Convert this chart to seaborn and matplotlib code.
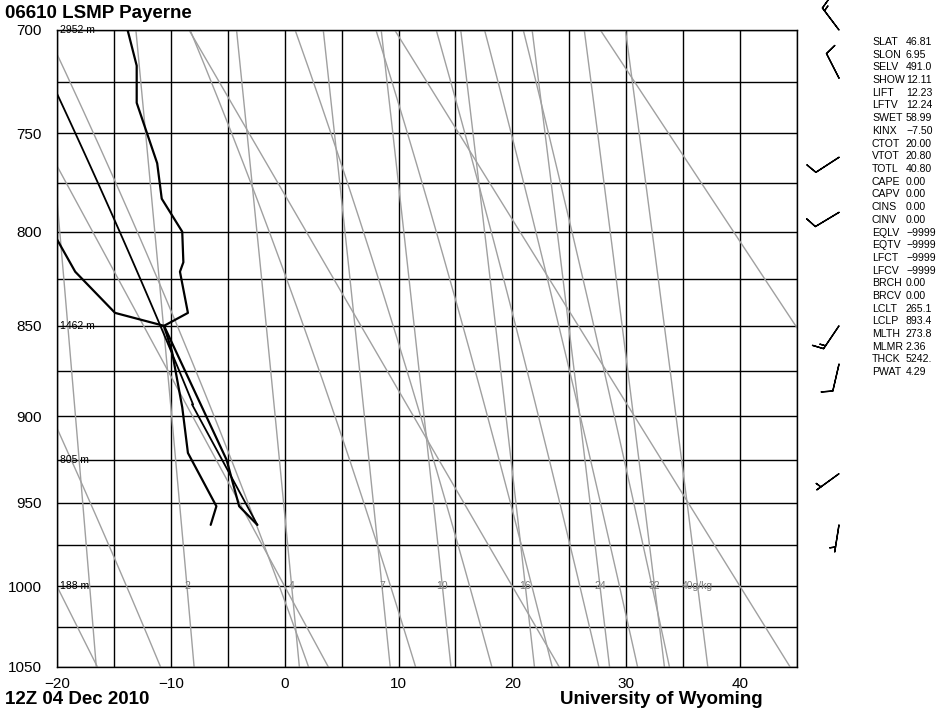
import numpy as np
import pandas as pd
import matplotlib
matplotlib.use("Agg")
import matplotlib.pyplot as plt
import seaborn as sns

KAPPA = 0.2857

# sounding, hPa / degC
pres_t = [963, 952, 925, 850, 843, 821, 816, 800, 783, 765, 735, 717, 700]
temp = [-2.4, -4.0, -5.1, -10.6, -8.5, -9.2, -8.9, -9.0, -10.8, -11.2, -13.0, -13.0, -13.8]
pres_d = [963, 952, 921, 895, 864, 850, 843, 821, 804]
dwpt = [-6.5, -6.0, -8.5, -9.0, -9.9, -10.6, -14.9, -18.4, -20.0]

# parcel: surface and LCL
sfc_p, sfc_t = 963.0, -2.4
lcl_p, lcl_t = 893.4, 265.1 - 273.15

# winds (deg, knots)
wind_p = [963, 933, 871, 850, 790, 762, 723, 700]
wind_dir = [189, 234, 193, 214, 239, 237, 333, 323]
wind_spd = [5, 5, 10, 15, 10, 10, 10, 15]

# background lines
dry_theta_c = [-20, 0, 20, 40, 60]
moist_t1050 = [-10.9, 2.1, 11.5, 18.2, 23.5, 27.6, 31.0, 33.8]
mix_ratio = [1, 2, 4, 7, 10, 16, 24, 32, 40]
mix_labels = ['', '2', '4', '7', '10', '16', '24', '32', '40g/kg']

height_p = [700, 850, 925, 1000]
height_lbl = ['2952 m', '1462 m', '805 m', '188 m']

stat_names = ['SLAT', 'SLON', 'SELV', 'SHOW', 'LIFT', 'LFTV', 'SWET', 'KINX', 'CTOT',
              'VTOT', 'TOTL', 'CAPE', 'CAPV', 'CINS', 'CINV', 'EQLV', 'EQTV', 'LFCT',
              'LFCV', 'BRCH', 'BRCV', 'LCLT', 'LCLP', 'MLTH', 'MLMR', 'THCK', 'PWAT']
stat_vals = ['46.81', '6.95', '491.0', '12.11', '12.23', '12.24', '58.99', '\u22127.50', '20.00',
             '20.80', '40.80', '0.00', '0.00', '0.00', '0.00', '\u22129999', '\u22129999', '\u22129999',
             '\u22129999', '0.00', '0.00', '265.1', '893.4', '273.8', '2.36', '5242.', '4.29']


def es(tc):
    return 6.112 * np.exp(17.67 * tc / (tc + 243.5))


def theta_e(tk, p):
    e = es(tk - 273.15)
    w = 0.622 * e / (p - e)
    return tk * (1000.0 / p) ** KAPPA * np.exp(2.5e6 * w / (1004.0 * tk))


def moist_temp(te, p):
    lo = np.full_like(p, 180.0)
    hi = np.full_like(p, 330.0)
    for _ in range(50):
        mid = (lo + hi) / 2
        up = theta_e(mid, p) > te
        hi = np.where(up, mid, hi)
        lo = np.where(up, lo, mid)
    return (lo + hi) / 2 - 273.15


def td_from_w(w, p):
    e = w * p / (622.0 + w)
    a = np.log(e / 6.112)
    return 243.5 * a / (17.67 - a)


sns.set_style("white")
plt.rcParams['font.family'] = ['Liberation Sans', 'DejaVu Sans']
plt.rcParams['text.color'] = 'black'
plt.rcParams['axes.labelcolor'] = 'black'

fig = plt.figure(figsize=(9.43, 7.16), dpi=100)
ax = fig.add_axes([57 / 943, 49 / 716, 740 / 943, 637 / 716])
fwd = lambda p: np.power(np.abs(p), KAPPA)
inv = lambda y: np.power(np.abs(y), 1 / KAPPA)
ax.set_yscale('function', functions=(fwd, inv))
ax.set_ylim(1050, 700)
ax.set_xlim(-20, 45)

# grid
for p in range(700, 1051, 25):
    ax.axhline(p, color='black', lw=1, zorder=1)
for t in range(-20, 46, 5):
    ax.axvline(t, color='black', lw=1, zorder=1)

pp = np.linspace(650, 1100, 300)
gray = '#a0a0a0'
for th in dry_theta_c:
    ax.plot((th + 273.15) * (pp / 1000.0) ** KAPPA - 273.15, pp, color=gray, lw=1, zorder=2)
for t0 in moist_t1050:
    te = theta_e(t0 + 273.15, 1050.0)
    ax.plot(moist_temp(te, pp), pp, color=gray, lw=1, zorder=2)
for w, lbl in zip(mix_ratio, mix_labels):
    ax.plot(td_from_w(w, pp), pp, color=gray, lw=1, zorder=2)
    if not lbl:
        continue
    xl = td_from_w(w, 1000.0)
    if lbl.endswith('kg'):
        ax.text(xl - 1.4, 1000, lbl, ha='left', va='center', fontsize=7.5, color='#787878', zorder=3)
    else:
        ax.text(xl, 1000, lbl, ha='center', va='center', fontsize=7.5, color='#787878', zorder=3)

# parcel path
p_dry = np.linspace(sfc_p, lcl_p, 30)
t_dry = (sfc_t + 273.15) * (p_dry / sfc_p) ** KAPPA - 273.15
p_moist = np.linspace(lcl_p, 650, 80)
t_moist = moist_temp(theta_e(lcl_t + 273.15, lcl_p), p_moist)
ax.plot(np.concatenate([t_dry, t_moist]), np.concatenate([p_dry, p_moist]),
        color='black', lw=1.3, zorder=4)

snd_t = pd.DataFrame({'p': pres_t, 'T': temp})
snd_d = pd.DataFrame({'p': pres_d, 'Td': dwpt})
sns.lineplot(data=snd_t, x='T', y='p', sort=False, estimator=None, color='black', lw=1.6, ax=ax, zorder=5)
sns.lineplot(data=snd_d, x='Td', y='p', sort=False, estimator=None, color='black', lw=1.6, ax=ax, zorder=5)

for p, lbl in zip(height_p, height_lbl):
    ax.text(-19.7, p, lbl, ha='left', va='center', fontsize=7.5, color='black', zorder=6)

ax.set_yticks(range(700, 1051, 50))
ax.set_yticklabels([str(v) for v in range(700, 1051, 50)])
ax.set_xticks(range(-20, 41, 10))
ax.set_xticklabels([str(v).replace('-', '\u2212') for v in range(-20, 41, 10)])
ax.yaxis.set_minor_locator(matplotlib.ticker.NullLocator())
ax.tick_params(axis='both', length=0, labelsize=11, colors='black')
ax.tick_params(axis='y', pad=11)
ax.tick_params(axis='x', pad=7)
ax.set_xlabel('')
ax.set_ylabel('')
for s in ax.spines.values():
    s.set_color('black')
    s.set_linewidth(1)

# wind barbs column
ax2 = fig.add_axes([800 / 943, 49 / 716, 80 / 943, 637 / 716])
ax2.set_yscale('function', functions=(fwd, inv))
ax2.set_ylim(1050, 700)
ax2.set_xlim(0, 80)
ax2.axis('off')
d = np.deg2rad(wind_dir)
u = -np.array(wind_spd) * np.sin(d)
v = -np.array(wind_spd) * np.cos(d)
ax2.barbs(np.full(len(wind_p), 39.0), wind_p, u, v, length=6.3, lw=1, color='black', clip_on=False)

# stats
for i, (n, val) in enumerate(zip(stat_names, stat_vals)):
    yy = 1 - (42 + 12.7 * i) / 716
    fig.text(872 / 943, yy, n, fontsize=7.6, va='center', ha='left')
    fig.text(906 / 943, yy, val, fontsize=7.6, va='center', ha='left')

fig.text(5 / 943, 1 - 13 / 716, '06610 LSMP Payerne', fontsize=13.5, fontweight='bold', va='center')
fig.text(5 / 943, 1 - 699 / 716, '12Z 04 Dec 2010', fontsize=13.5, fontweight='bold', va='center')
fig.text(560 / 943, 1 - 699 / 716, 'University of Wyoming', fontsize=13.5, fontweight='bold', va='center')

fig.savefig('out.png', dpi=100)
